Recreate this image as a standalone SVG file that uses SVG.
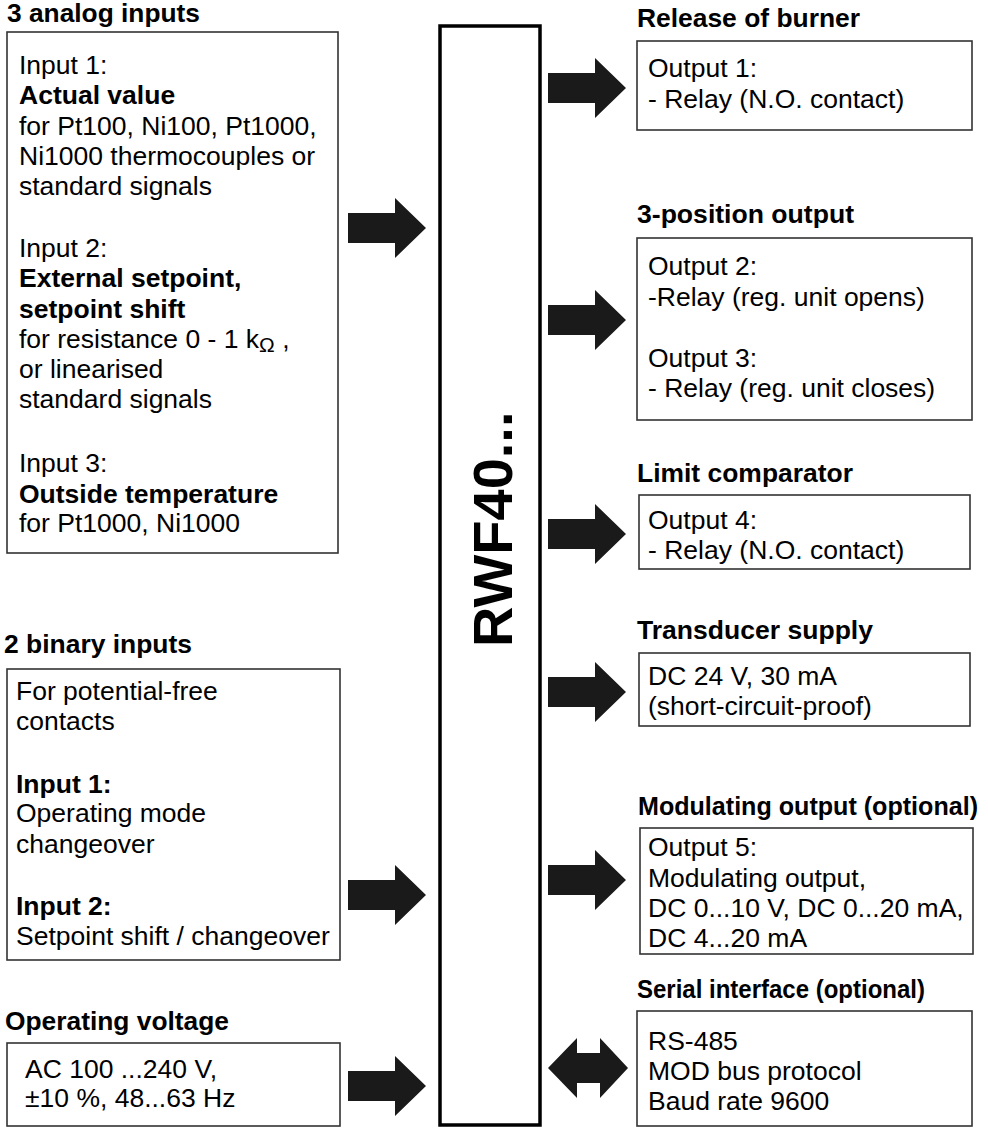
<svg xmlns="http://www.w3.org/2000/svg" xmlns:xlink="http://www.w3.org/1999/xlink" width="988" height="1128" viewBox="0 0 988 1128">
<style>
text{font-family:"Liberation Sans",Arial,Helvetica,sans-serif;fill:#000}
.t{font-size:26px;font-weight:bold}
.b{font-size:26.5px}
.bb{font-weight:bold}
.box{fill:#fff;stroke:#333;stroke-width:1.6}
.arr{fill:#1a1a1a}
</style>
<defs>
<path id="arrR" d="M0,-15 H47 V-30 L78,0 L47,30 V15 H0 Z"/>
<path id="arrD" d="M0,0 L29,-30 V-15 H52 V-30 L80,0 L52,30 V15 H29 V30 Z"/>
</defs>
<rect width="988" height="1128" fill="#fff"/>

<g id="main">
<rect x="440" y="26" width="100" height="1099" fill="#fff" stroke="#000" stroke-width="3.5"/>
<text transform="translate(512,647) rotate(-90)" font-size="56" font-weight="bold">RWF40...</text>
</g>

<g id="analog">
<text class="t" x="7" y="22" textLength="193" lengthAdjust="spacingAndGlyphs">3 analog inputs</text>
<rect class="box" x="7" y="32" width="331" height="521"/>
<text class="b" x="19" y="74">Input 1:</text>
<text class="b bb" x="19" y="104">Actual value</text>
<text class="b" x="19" y="135">for Pt100, Ni100, Pt1000,</text>
<text class="b" x="19" y="165">Ni1000 thermocouples or</text>
<text class="b" x="19" y="195">standard signals</text>
<text class="b" x="19" y="257">Input 2:</text>
<text class="b bb" x="19" y="287">External setpoint,</text>
<text class="b bb" x="19" y="318">setpoint shift</text>
<text class="b" x="19" y="348">for resistance 0 - 1 k<tspan font-size="21" dy="4">Ω</tspan><tspan dy="-4"> ,</tspan></text>
<text class="b" x="19" y="378">or linearised</text>
<text class="b" x="19" y="408">standard signals</text>
<text class="b" x="19" y="472">Input 3:</text>
<text class="b bb" x="19" y="503">Outside temperature</text>
<text class="b" x="19" y="532">for Pt1000, Ni1000</text>
</g>

<g id="binary">
<text class="t" x="4" y="653" textLength="188" lengthAdjust="spacingAndGlyphs">2 binary inputs</text>
<rect class="box" x="7" y="669" width="333" height="291"/>
<text class="b" x="16" y="700">For potential-free</text>
<text class="b" x="16" y="730">contacts</text>
<text class="b bb" x="16" y="793">Input 1:</text>
<text class="b" x="16" y="822">Operating mode</text>
<text class="b" x="16" y="853">changeover</text>
<text class="b bb" x="16" y="915">Input 2:</text>
<text class="b" x="16" y="945">Setpoint shift / changeover</text>
</g>

<g id="voltage">
<text class="t" x="5" y="1030" textLength="224" lengthAdjust="spacingAndGlyphs">Operating voltage</text>
<rect class="box" x="7" y="1043" width="333" height="83"/>
<text class="b" x="25" y="1078">AC 100 ...240 V,</text>
<text class="b" x="25" y="1107">±10 %, 48...63 Hz</text>
</g>

<g id="burner">
<text class="t" x="637" y="27" textLength="223" lengthAdjust="spacingAndGlyphs">Release of burner</text>
<rect class="box" x="637" y="41" width="335" height="89"/>
<text class="b" x="648" y="77">Output 1:</text>
<text class="b" x="648" y="108">- Relay (N.O. contact)</text>
</g>

<g id="threepos">
<text class="t" x="637" y="223" textLength="217" lengthAdjust="spacingAndGlyphs">3-position output</text>
<rect class="box" x="637" y="238" width="335" height="182"/>
<text class="b" x="648" y="275">Output 2:</text>
<text class="b" x="648" y="306">-Relay (reg. unit opens)</text>
<text class="b" x="648" y="367">Output 3:</text>
<text class="b" x="648" y="397">- Relay (reg. unit closes)</text>
</g>

<g id="limit">
<text class="t" x="637" y="482" textLength="216" lengthAdjust="spacingAndGlyphs">Limit comparator</text>
<rect class="box" x="639" y="495" width="331" height="74"/>
<text class="b" x="648" y="529">Output 4:</text>
<text class="b" x="648" y="559">- Relay (N.O. contact)</text>
</g>

<g id="transducer">
<text class="t" x="637" y="639" textLength="236" lengthAdjust="spacingAndGlyphs">Transducer supply</text>
<rect class="box" x="639" y="653" width="331" height="73"/>
<text class="b" x="648" y="685">DC 24 V, 30 mA</text>
<text class="b" x="648" y="715">(short-circuit-proof)</text>
</g>

<g id="modulating">
<text x="638" y="815" font-size="25" font-weight="bold" textLength="340" lengthAdjust="spacingAndGlyphs">Modulating output (optional)</text>
<rect class="box" x="640" y="828" width="333" height="126"/>
<text class="b" x="648" y="856">Output 5:</text>
<text class="b" x="648" y="887">Modulating output,</text>
<text class="b" x="648" y="917">DC 0...10 V, DC 0...20 mA,</text>
<text class="b" x="648" y="947">DC 4...20 mA</text>
</g>

<g id="serial">
<text class="t" x="637" y="998" textLength="288" lengthAdjust="spacingAndGlyphs">Serial interface (optional)</text>
<rect class="box" x="637" y="1011" width="335" height="115"/>
<text class="b" x="648" y="1050">RS-485</text>
<text class="b" x="648" y="1080">MOD bus protocol</text>
<text class="b" x="648" y="1110">Baud rate 9600</text>
</g>

<g id="connectors" class="arr">
<use xlink:href="#arrR" href="#arrR" transform="translate(348,228)"/>
<use xlink:href="#arrR" href="#arrR" transform="translate(348,895)"/>
<use xlink:href="#arrR" href="#arrR" transform="translate(348,1086)"/>
<use xlink:href="#arrR" href="#arrR" transform="translate(548,88)"/>
<use xlink:href="#arrR" href="#arrR" transform="translate(548,320)"/>
<use xlink:href="#arrR" href="#arrR" transform="translate(548,534)"/>
<use xlink:href="#arrR" href="#arrR" transform="translate(548,692)"/>
<use xlink:href="#arrR" href="#arrR" transform="translate(548,880)"/>
<use xlink:href="#arrD" href="#arrD" transform="translate(548,1068)"/>
</g>
</svg>
